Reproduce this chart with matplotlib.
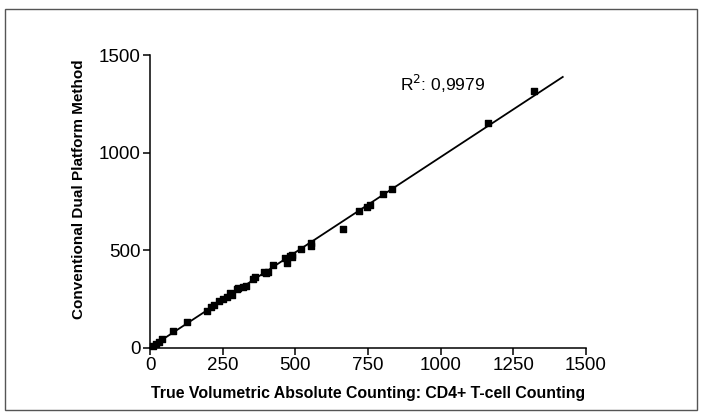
import numpy as np
import matplotlib
matplotlib.use("Agg")
import matplotlib.pyplot as plt
from matplotlib.patches import Rectangle

plt.rcParams['font.family'] = ['Liberation Sans', 'DejaVu Sans']

# CD4+ counts: volumetric (x) vs dual platform (y)
volumetric = [11, 20, 30, 40, 80, 128, 195, 210, 220, 238, 250, 265, 275, 281,
              300, 304, 321, 330, 355, 361, 392, 400, 407, 422, 464, 470, 480,
              487, 490, 518, 554, 554, 663, 720, 745, 757, 803, 831, 1164, 1322]
dual_platform = [10, 19, 28, 43, 87, 133, 188, 210, 219, 239, 248, 262, 282, 270,
                 300, 308, 313, 318, 351, 364, 390, 382, 390, 424, 458, 432, 470,
                 475, 465, 504, 538, 520, 608, 702, 723, 731, 788, 814, 1150, 1316]
r2_text = "R$^2$: 0,9979"
x_ticks = [0, 250, 500, 750, 1000, 1250, 1500]
y_ticks = [0, 500, 1000, 1500]

fig = plt.figure(figsize=(7.04, 4.18), dpi=100)
fig.patches.append(Rectangle((5/704, 1-410/418), 692/704, 401/418,
                             transform=fig.transFigure, fill=False,
                             edgecolor='#555555', linewidth=1.0))
ax = fig.add_axes([150/704, 1-347.7/418, 436/704, 292.7/418])

x = np.array(volumetric)
y = np.array(dual_platform)
slope, intercept = np.polyfit(x, y, 1)
xl = np.array([0, 1420])
ax.plot(xl, slope*xl + intercept, color='black', linewidth=1.3, clip_on=False)
ax.scatter(x, y, marker='s', s=20, color='black', clip_on=False, zorder=3)

ax.text(860, 1352, r2_text, fontsize=12.5, va='center')

ax.set_xlim(0, 1500)
ax.set_ylim(0, 1500)
ax.set_xticks(x_ticks)
ax.set_yticks(y_ticks)
ax.tick_params(labelsize=13.5, width=1.1, length=5, pad=2)
for s in ['top', 'right']:
    ax.spines[s].set_visible(False)
for s in ['left', 'bottom']:
    ax.spines[s].set_linewidth(1.1)

ax.set_xlabel("True Volumetric Absolute Counting: CD4+ T-cell Counting",
              fontsize=11.4, fontweight='bold', labelpad=8)
ax.set_ylabel("Conventional Dual Platform Method",
              fontsize=11.0, fontweight='bold')
ax.yaxis.set_label_coords(-0.147, 0.542)

fig.savefig("out.png", dpi=100)
